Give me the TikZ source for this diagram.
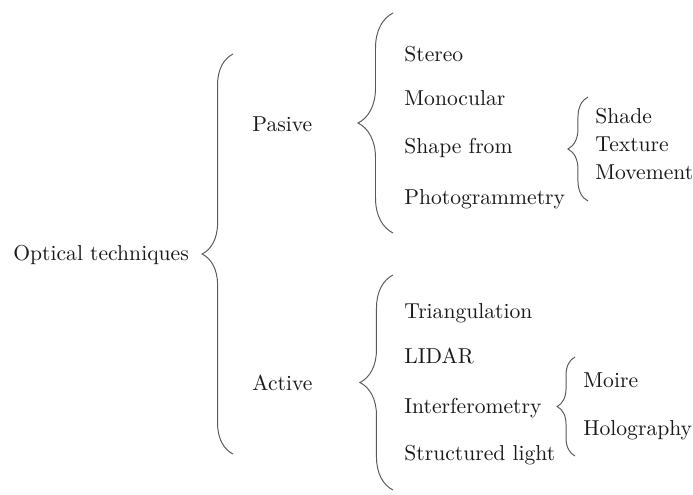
\documentclass[tikz,border=0pt]{standalone}
\usepackage{tikz}
\usetikzlibrary{decorations.pathreplacing}
\tikzset{
  item/.style = {anchor=base west, inner sep=0pt, text=black!90},
  brc/.style  = {decorate, draw=black!65, line width=0.45pt,
                 decoration={brace, amplitude=#1}},
}
\begin{document}
\begin{tikzpicture}[x=0.463pt, y=-0.463pt]
  \useasboundingbox (0,0) rectangle (693,494);

  % ── Root and its brace ──────────────────────────────────────────
  \node[item] (opt) at (13,260) {Optical techniques};
  \coordinate (optT) at (233,54);
  \coordinate (optB) at (233,454);
  \draw[brc=14.3pt] (optB) -- (optT);

  % ── First level ─────────────────────────────────────────────────
  \node[item] (pas) at (252,131) {Pasive};
  \node[item] (act) at (252,390) {Active};

  \coordinate (pasT) at (393,13);
  \coordinate (pasB) at (393,233);
  \draw[brc=16.2pt] (pasB) -- (pasT);

  \coordinate (actT) at (393,275);
  \coordinate (actB) at (393,490);
  \draw[brc=15.3pt] (actB) -- (actT);

  % ── Passive methods ─────────────────────────────────────────────
  \node[item] (ste) at (404,61)  {Stereo};
  \node[item] (mon) at (404,105) {Monocular};
  \node[item] (shp) at (404,153) {Shape from};
  \node[item] (pho) at (404,204) {Photogrammetry};

  % Shape from ...
  \coordinate (shpT) at (588,97);
  \coordinate (shpB) at (588,201);
  \draw[brc=9.3pt] (shpB) -- (shpT);
  \node[item] (sha) at (595,123) {Shade};
  \node[item] (tex) at (595,151) {Texture};
  \node[item] (mov) at (595,179) {Movement};

  % ── Active methods ──────────────────────────────────────────────
  \node[item] (tri) at (404,318) {Triangulation};
  \node[item] (lid) at (404,363) {LIDAR};
  \node[item] (itf) at (404,413) {Interferometry};
  \node[item] (str) at (404,460) {Structured light};

  % Interferometry ...
  \coordinate (itfT) at (575,357);
  \coordinate (itfB) at (575,456);
  \draw[brc=8.3pt] (itfB) -- (itfT);
  \node[item] (moi) at (583,387) {Moire};
  \node[item] (hol) at (583,435) {Holography};

\end{tikzpicture}
\end{document}
